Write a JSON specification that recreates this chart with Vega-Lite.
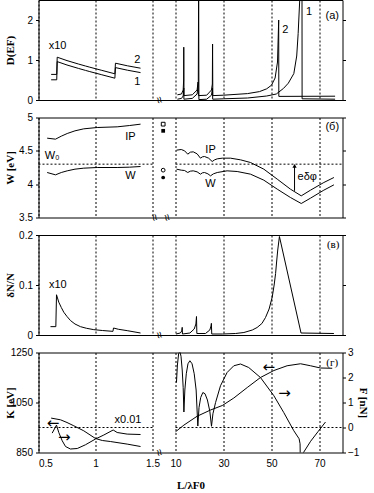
{
"$schema": "https://vega.github.io/schema/vega-lite/v6.json",
"padding": {"left": 4.5, "top": 0, "right": 0, "bottom": 0},
"autosize": {"type": "pad"},
"background": "white",
"config": {
  "view": {"stroke": null},
  "axis": {"domainColor": "black", "tickColor": "black", "labelColor": "black", "labelFont": "Liberation Sans", "labelFontSize": 10, "titleFont": "Liberation Serif", "titleFontSize": 11, "titleFontWeight": "bold", "titleColor": "black", "grid": false, "tickSize": 3, "labelPadding": 3},
  "text": {"font": "Liberation Sans", "fontSize": 11, "color": "black"},
  "line": {"color": "black", "strokeWidth": 1}
},
"columns": 2,
"bounds": "flush",
"spacing": {"row": 17.5, "column": 0},
"concat": [
{
 "width": 120, "height": 100,
 "resolve": {"scale": {"y": "independent"}, "axis": {"x": "independent"}},
 "layer": [
  {"data": {"values": [
    {"c":"2","x":0.611,"y":0.64},{"c":"2","x":0.66,"y":0.64},{"c":"2","x":0.664,"y":1.07},{"c":"2","x":0.75,"y":0.985},{"c":"2","x":0.85,"y":0.9},{"c":"2","x":0.912,"y":0.85},{"c":"2","x":0.95,"y":0.82},{"c":"2","x":1.05,"y":0.745},{"c":"2","x":1.17,"y":0.655},{"c":"2","x":1.175,"y":0.92},{"c":"2","x":1.28,"y":0.855},{"c":"2","x":1.395,"y":0.795},
    {"c":"1","x":0.611,"y":0.505},{"c":"1","x":0.66,"y":0.505},{"c":"1","x":0.664,"y":0.96},{"c":"1","x":0.75,"y":0.875},{"c":"1","x":0.85,"y":0.79},{"c":"1","x":0.912,"y":0.74},{"c":"1","x":0.95,"y":0.71},{"c":"1","x":1.05,"y":0.635},{"c":"1","x":1.17,"y":0.545},{"c":"1","x":1.175,"y":0.81},{"c":"1","x":1.28,"y":0.745},{"c":"1","x":1.395,"y":0.685}
   ]},
   "mark": {"type": "line", "color": "black", "strokeWidth": 1},
   "encoding": {
    "x": {"field": "x", "type": "quantitative", "scale": {"domain": [0.5, 1.5526], "nice": false, "zero": false}, "axis": {"orient": "bottom", "values": [0.5, 1, 1.5], "grid": true, "gridDash": [2, 2], "gridColor": "black", "gridOpacity": 1, "ticks": false, "labels": false, "title": null}},
    "y": {"field": "y", "type": "quantitative", "scale": {"domain": [0, 2.5], "nice": false, "zero": false}, "axis": {"orient": "left", "values": [0, 1, 2], "labelExpr": "'' + datum.value", "title": "D(EF)", "titleX": -28, "titleY": 50, "titleAngle": -90, "titleAlign": "center", "titleBaseline": "middle"}},
    "detail": {"field": "c"}
   }},
  {"data": {"values": [{"x":0.667,"y":1.36,"t":"x10"},{"x":1.366,"y":0.99,"t":"2"},{"x":1.366,"y":0.46,"t":"1"}]},
   "mark": {"type": "text", "fontSize": 11},
   "encoding": {
    "x": {"field": "x", "type": "quantitative", "scale": {"domain": [0.5, 1.5526], "nice": false, "zero": false}, "axis": {"orient": "top", "ticks": false, "labels": false, "title": null}},
    "y": {"field": "y", "type": "quantitative", "scale": {"domain": [0, 2.5], "nice": false, "zero": false}, "axis": null},
    "text": {"field": "t"}
   }}
 ]
},
{
 "width": 184, "height": 100,
 "resolve": {"scale": {"y": "independent"}, "axis": {"x": "independent"}},
 "layer": [
  {"data": {"values": [
    {"c":"1","x":10.8,"y":0.02},{"c":"1","x":12.5,"y":0.04},{"c":"1","x":13.2,"y":0.1},{"c":"1","x":13.45,"y":0.3},{"c":"1","x":13.5,"y":0.02},{"c":"1","x":17,"y":0.04},{"c":"1","x":19,"y":0.15},{"c":"1","x":19.5,"y":0.4},{"c":"1","x":19.65,"y":3.0},{"c":"1","x":19.75,"y":0.01},{"c":"1","x":23,"y":0.02},{"c":"1","x":25,"y":0.12},{"c":"1","x":25.4,"y":0.3},{"c":"1","x":25.5,"y":0.02},{"c":"1","x":30,"y":0.03},{"c":"1","x":40,"y":0.05},{"c":"1","x":48,"y":0.1},{"c":"1","x":52,"y":0.15},{"c":"1","x":55,"y":0.29},{"c":"1","x":57,"y":0.42},{"c":"1","x":59.3,"y":0.66},{"c":"1","x":60.5,"y":1.1},{"c":"1","x":61.1,"y":1.66},{"c":"1","x":61.6,"y":2.3},{"c":"1","x":62,"y":2.8},{"c":"1","x":62.7,"y":3.2},{"c":"1","x":62.75,"y":0.03},{"c":"1","x":76.5,"y":0.02},
    {"c":"2","x":10.8,"y":0.13},{"c":"2","x":12.5,"y":0.15},{"c":"2","x":13.2,"y":0.25},{"c":"2","x":13.4,"y":0.5},{"c":"2","x":13.45,"y":1.32},{"c":"2","x":13.55,"y":0.11},{"c":"2","x":17,"y":0.13},{"c":"2","x":19,"y":0.25},{"c":"2","x":19.4,"y":0.45},{"c":"2","x":19.55,"y":0.11},{"c":"2","x":23,"y":0.12},{"c":"2","x":25,"y":0.25},{"c":"2","x":25.35,"y":0.4},{"c":"2","x":25.45,"y":1.4},{"c":"2","x":25.55,"y":0.11},{"c":"2","x":30,"y":0.12},{"c":"2","x":40,"y":0.16},{"c":"2","x":45,"y":0.21},{"c":"2","x":48,"y":0.28},{"c":"2","x":50,"y":0.37},{"c":"2","x":51.5,"y":0.55},{"c":"2","x":52.5,"y":0.95},{"c":"2","x":53,"y":2.0},{"c":"2","x":53.05,"y":0.09},{"c":"2","x":76.5,"y":0.095}
   ]},
   "mark": {"type": "line", "color": "black", "strokeWidth": 1, "clip": true},
   "encoding": {
    "x": {"field": "x", "type": "quantitative", "scale": {"domain": [2.92, 79.58], "nice": false, "zero": false}, "axis": {"orient": "bottom", "values": [10, 30, 50, 70], "grid": true, "gridDash": [2, 2], "gridColor": "black", "gridOpacity": 1, "ticks": false, "labels": false, "title": null}},
    "y": {"field": "y", "type": "quantitative", "scale": {"domain": [0, 2.5], "nice": false, "zero": false}, "axis": {"orient": "right", "values": [0, 1, 2], "labels": false, "title": null}},
    "detail": {"field": "c"}
   }},
  {"data": {"values": [{"x":55.8,"y":1.74,"t":"2"},{"x":65.6,"y":2.2,"t":"1"},{"x":75.3,"y":2.11,"t":"(а)"}]},
   "mark": {"type": "text", "fontSize": 11},
   "encoding": {
    "x": {"field": "x", "type": "quantitative", "scale": {"domain": [2.92, 79.58], "nice": false, "zero": false}, "axis": {"orient": "top", "ticks": false, "labels": false, "title": null}},
    "y": {"field": "y", "type": "quantitative", "scale": {"domain": [0, 2.5], "nice": false, "zero": false}, "axis": null},
    "text": {"field": "t"}
   }},
  {"data": {"values": [{"x":3.3,"y":0}]},
   "mark": {"type": "text", "text": "≈", "fontSize": 12, "angle": 70},
   "encoding": {
    "x": {"field": "x", "type": "quantitative", "scale": {"domain": [2.92, 79.58], "nice": false, "zero": false}, "axis": null},
    "y": {"field": "y", "type": "quantitative", "scale": {"domain": [0, 2.5], "nice": false, "zero": false}, "axis": null}
   }}
 ]
},
{
 "width": 120, "height": 100,
 "resolve": {"scale": {"y": "independent"}, "axis": {"x": "independent"}},
 "layer": [
  {"data": {"values": [
    {"c":"IP","x":0.576,"y":4.69},{"c":"IP","x":0.649,"y":4.675},{"c":"IP","x":0.7,"y":4.72},{"c":"IP","x":0.752,"y":4.76},{"c":"IP","x":0.82,"y":4.8},{"c":"IP","x":0.897,"y":4.83},{"c":"IP","x":1.015,"y":4.85},{"c":"IP","x":1.19,"y":4.86},{"c":"IP","x":1.3,"y":4.88},{"c":"IP","x":1.395,"y":4.9},
    {"c":"W","x":0.576,"y":4.175},{"c":"W","x":0.649,"y":4.14},{"c":"W","x":0.7,"y":4.175},{"c":"W","x":0.752,"y":4.2},{"c":"W","x":0.82,"y":4.225},{"c":"W","x":0.897,"y":4.24},{"c":"W","x":1.015,"y":4.25},{"c":"W","x":1.19,"y":4.25},{"c":"W","x":1.3,"y":4.255},{"c":"W","x":1.395,"y":4.265}
   ]},
   "mark": {"type": "line", "color": "black", "strokeWidth": 1},
   "encoding": {
    "x": {"field": "x", "type": "quantitative", "scale": {"domain": [0.5, 1.5526], "nice": false, "zero": false}, "axis": {"orient": "bottom", "values": [0.5, 1, 1.5], "grid": true, "gridDash": [2, 2], "gridColor": "black", "gridOpacity": 1, "ticks": false, "labels": false, "title": null}},
    "y": {"field": "y", "type": "quantitative", "scale": {"domain": [3.5, 5], "nice": false, "zero": false}, "axis": {"orient": "left", "values": [3.5, 4, 4.5, 5], "labelExpr": "'' + datum.value", "title": "W [eV]", "titleX": -28, "titleY": 50, "titleAngle": -90, "titleAlign": "center", "titleBaseline": "middle"}},
    "detail": {"field": "c"}
   }},
  {"data": {"values": [{"x":0.5,"x2":1.5,"y":4.3}]},
   "mark": {"type": "rule", "color": "black", "strokeWidth": 1, "strokeDash": [2, 2]},
   "encoding": {
    "x": {"field": "x", "type": "quantitative", "scale": {"domain": [0.5, 1.5526], "nice": false, "zero": false}, "axis": null},
    "x2": {"field": "x2"},
    "y": {"field": "y", "type": "quantitative", "scale": {"domain": [3.5, 5], "nice": false, "zero": false}, "axis": null}
   }},
  {"data": {"values": [{"x":0.62,"y":4.42,"t":"W₀"},{"x":1.307,"y":4.71,"t":"IP"},{"x":1.307,"y":4.125,"t":"W"}]},
   "mark": {"type": "text", "fontSize": 11},
   "encoding": {
    "x": {"field": "x", "type": "quantitative", "scale": {"domain": [0.5, 1.5526], "nice": false, "zero": false}, "axis": {"orient": "top", "ticks": false, "labels": false, "title": null}},
    "y": {"field": "y", "type": "quantitative", "scale": {"domain": [3.5, 5], "nice": false, "zero": false}, "axis": null},
    "text": {"field": "t"}
   }}
 ]
},
{
 "width": 184, "height": 100,
 "resolve": {"scale": {"y": "independent"}, "axis": {"x": "independent"}},
 "layer": [
  {"data": {"values": [
    {"c":"IP","x":10.42,"y":4.51},{"c":"IP","x":12.4,"y":4.52},{"c":"IP","x":13.8,"y":4.5},{"c":"IP","x":15.1,"y":4.45},{"c":"IP","x":16.2,"y":4.48},{"c":"IP","x":17.4,"y":4.485},{"c":"IP","x":19.0,"y":4.455},{"c":"IP","x":20.4,"y":4.39},{"c":"IP","x":21.2,"y":4.41},{"c":"IP","x":22.1,"y":4.415},{"c":"IP","x":23.8,"y":4.39},{"c":"IP","x":25.3,"y":4.34},{"c":"IP","x":26.3,"y":4.365},{"c":"IP","x":27.4,"y":4.38},{"c":"IP","x":29.5,"y":4.39},{"c":"IP","x":32.9,"y":4.39},{"c":"IP","x":37.1,"y":4.365},{"c":"IP","x":41.25,"y":4.325},{"c":"IP","x":46.8,"y":4.225},{"c":"IP","x":52.4,"y":4.075},{"c":"IP","x":57.9,"y":3.925},{"c":"IP","x":62.4,"y":3.825},{"c":"IP","x":66.25,"y":3.91},{"c":"IP","x":71.8,"y":4.025},{"c":"IP","x":76,"y":4.1},
    {"c":"W","x":10.42,"y":4.225},{"c":"W","x":12.4,"y":4.21},{"c":"W","x":13.8,"y":4.205},{"c":"W","x":15.1,"y":4.175},{"c":"W","x":16.2,"y":4.195},{"c":"W","x":17.4,"y":4.2},{"c":"W","x":19.0,"y":4.185},{"c":"W","x":20.4,"y":4.15},{"c":"W","x":21.2,"y":4.17},{"c":"W","x":22.1,"y":4.175},{"c":"W","x":23.5,"y":4.155},{"c":"W","x":24.6,"y":4.125},{"c":"W","x":25.8,"y":4.155},{"c":"W","x":27.4,"y":4.175},{"c":"W","x":31.5,"y":4.2},{"c":"W","x":35.7,"y":4.19},{"c":"W","x":41.25,"y":4.15},{"c":"W","x":46.8,"y":4.06},{"c":"W","x":52.4,"y":3.925},{"c":"W","x":57.9,"y":3.8},{"c":"W","x":62.4,"y":3.71},{"c":"W","x":66.25,"y":3.79},{"c":"W","x":71.8,"y":3.91},{"c":"W","x":76,"y":3.99}
   ]},
   "mark": {"type": "line", "color": "black", "strokeWidth": 1},
   "encoding": {
    "x": {"field": "x", "type": "quantitative", "scale": {"domain": [2.92, 79.58], "nice": false, "zero": false}, "axis": {"orient": "bottom", "values": [10, 30, 50, 70], "grid": true, "gridDash": [2, 2], "gridColor": "black", "gridOpacity": 1, "ticks": false, "labels": false, "title": null}},
    "y": {"field": "y", "type": "quantitative", "scale": {"domain": [3.5, 5], "nice": false, "zero": false}, "axis": {"orient": "right", "values": [3.5, 4, 4.5, 5], "labels": false, "title": null}},
    "detail": {"field": "c"}
   }},
  {"data": {"values": [{"x":10,"x2":79.58,"y":4.3}]},
   "mark": {"type": "rule", "color": "black", "strokeWidth": 1, "strokeDash": [2, 2]},
   "encoding": {
    "x": {"field": "x", "type": "quantitative", "scale": {"domain": [2.92, 79.58], "nice": false, "zero": false}, "axis": null},
    "x2": {"field": "x2"},
    "y": {"field": "y", "type": "quantitative", "scale": {"domain": [3.5, 5], "nice": false, "zero": false}, "axis": null}
   }},
  {"data": {"values": [{"x":59.6,"y":3.9,"y2":4.28}]},
   "mark": {"type": "rule", "color": "black", "strokeWidth": 1},
   "encoding": {
    "x": {"field": "x", "type": "quantitative", "scale": {"domain": [2.92, 79.58], "nice": false, "zero": false}, "axis": null},
    "y": {"field": "y", "type": "quantitative", "scale": {"domain": [3.5, 5], "nice": false, "zero": false}, "axis": null},
    "y2": {"field": "y2"}
   }},
  {"data": {"values": [{"x":59.6,"y":4.275}]},
   "mark": {"type": "point", "shape": "triangle-up", "filled": true, "color": "black", "size": 18, "opacity": 1},
   "encoding": {
    "x": {"field": "x", "type": "quantitative", "scale": {"domain": [2.92, 79.58], "nice": false, "zero": false}, "axis": null},
    "y": {"field": "y", "type": "quantitative", "scale": {"domain": [3.5, 5], "nice": false, "zero": false}, "axis": null}
   }},
  {"data": {"values": [{"x":4.87,"y":4.9,"q":"IP"},{"x":4.87,"y":4.21,"q":"W"}]},
   "mark": {"type": "point", "filled": false, "color": "black", "size": 14, "strokeWidth": 1, "opacity": 1},
   "encoding": {
    "x": {"field": "x", "type": "quantitative", "scale": {"domain": [2.92, 79.58], "nice": false, "zero": false}, "axis": null},
    "y": {"field": "y", "type": "quantitative", "scale": {"domain": [3.5, 5], "nice": false, "zero": false}, "axis": null},
    "shape": {"field": "q", "type": "nominal", "scale": {"domain": ["IP", "W"], "range": ["square", "circle"]}, "legend": null}
   }},
  {"data": {"values": [{"x":4.87,"y":4.8,"q":"IP"},{"x":4.87,"y":4.1,"q":"W"}]},
   "mark": {"type": "point", "filled": true, "color": "black", "size": 14, "opacity": 1},
   "encoding": {
    "x": {"field": "x", "type": "quantitative", "scale": {"domain": [2.92, 79.58], "nice": false, "zero": false}, "axis": null},
    "y": {"field": "y", "type": "quantitative", "scale": {"domain": [3.5, 5], "nice": false, "zero": false}, "axis": null},
    "shape": {"field": "q", "type": "nominal", "scale": {"domain": ["IP", "W"], "range": ["square", "circle"]}, "legend": null}
   }},
  {"data": {"values": [{"x":24.6,"y":4.51,"t":"IP"},{"x":24.6,"y":4.0,"t":"W"},{"x":64.9,"y":4.11,"t":"eδφ"},{"x":75.3,"y":4.86,"t":"(б)"}]},
   "mark": {"type": "text", "fontSize": 11},
   "encoding": {
    "x": {"field": "x", "type": "quantitative", "scale": {"domain": [2.92, 79.58], "nice": false, "zero": false}, "axis": {"orient": "top", "ticks": false, "labels": false, "title": null}},
    "y": {"field": "y", "type": "quantitative", "scale": {"domain": [3.5, 5], "nice": false, "zero": false}, "axis": null},
    "text": {"field": "t"}
   }},
  {"data": {"values": [{"x":1.3,"y":3.5},{"x":6.5,"y":3.5}]},
   "mark": {"type": "text", "text": "≈", "fontSize": 12, "angle": 70},
   "encoding": {
    "x": {"field": "x", "type": "quantitative", "scale": {"domain": [2.92, 79.58], "nice": false, "zero": false}, "axis": null},
    "y": {"field": "y", "type": "quantitative", "scale": {"domain": [3.5, 5], "nice": false, "zero": false}, "axis": null}
   }}
 ]
},
{
 "width": 120, "height": 100,
 "resolve": {"scale": {"y": "independent"}, "axis": {"x": "independent"}},
 "layer": [
  {"data": {"values": [
    {"x":0.605,"y":0.0167},{"x":0.652,"y":0.0167},{"x":0.658,"y":0.0805},{"x":0.678,"y":0.0656},{"x":0.7,"y":0.055},{"x":0.722,"y":0.0455},{"x":0.75,"y":0.037},{"x":0.781,"y":0.0288},{"x":0.82,"y":0.022},{"x":0.868,"y":0.0167},{"x":0.92,"y":0.0135},{"x":0.985,"y":0.0107},{"x":1.06,"y":0.009},{"x":1.153,"y":0.0073},{"x":1.158,"y":0.014},{"x":1.2,"y":0.0115},{"x":1.278,"y":0.0087},{"x":1.395,"y":0.004}
   ]},
   "mark": {"type": "line", "color": "black", "strokeWidth": 1},
   "encoding": {
    "x": {"field": "x", "type": "quantitative", "scale": {"domain": [0.5, 1.5526], "nice": false, "zero": false}, "axis": {"orient": "bottom", "values": [0.5, 1, 1.5], "grid": true, "gridDash": [2, 2], "gridColor": "black", "gridOpacity": 1, "ticks": false, "labels": false, "title": null}},
    "y": {"field": "y", "type": "quantitative", "scale": {"domain": [0, 0.2], "nice": false, "zero": false}, "axis": {"orient": "left", "values": [0, 0.1, 0.2], "labelExpr": "'' + datum.value", "title": "δN/N", "titleX": -28, "titleY": 50, "titleAngle": -90, "titleAlign": "center", "titleBaseline": "middle"}}
   }},
  {"data": {"values": [{"x":0.67,"y":0.1,"t":"x10"}]},
   "mark": {"type": "text", "fontSize": 11},
   "encoding": {
    "x": {"field": "x", "type": "quantitative", "scale": {"domain": [0.5, 1.5526], "nice": false, "zero": false}, "axis": {"orient": "top", "ticks": false, "labels": false, "title": null}},
    "y": {"field": "y", "type": "quantitative", "scale": {"domain": [0, 0.2], "nice": false, "zero": false}, "axis": null},
    "text": {"field": "t"}
   }}
 ]
},
{
 "width": 184, "height": 100,
 "resolve": {"scale": {"y": "independent"}, "axis": {"x": "independent"}},
 "layer": [
  {"data": {"values": [
    {"x":10.2,"y":0.002},{"x":12,"y":0.004},{"x":12.6,"y":0.008},{"x":12.8,"y":0.0153},{"x":12.9,"y":0.002},{"x":16,"y":0.004},{"x":17.8,"y":0.012},{"x":18.5,"y":0.022},{"x":18.75,"y":0.037},{"x":18.9,"y":0.003},{"x":22.5,"y":0.003},{"x":24.3,"y":0.01},{"x":24.8,"y":0.018},{"x":24.95,"y":0.0233},{"x":25.1,"y":0.002},{"x":29.5,"y":0.002},{"x":35,"y":0.003},{"x":38.5,"y":0.005},{"x":42,"y":0.01},{"x":44,"y":0.015},{"x":46,"y":0.023},{"x":47.5,"y":0.035},{"x":49,"y":0.052},{"x":50.3,"y":0.076},{"x":51.1,"y":0.1},{"x":51.7,"y":0.123},{"x":52.2,"y":0.15},{"x":52.6,"y":0.17},{"x":53.3,"y":0.197},{"x":62.3,"y":0.004},{"x":76,"y":0.003}
   ]},
   "mark": {"type": "line", "color": "black", "strokeWidth": 1},
   "encoding": {
    "x": {"field": "x", "type": "quantitative", "scale": {"domain": [2.92, 79.58], "nice": false, "zero": false}, "axis": {"orient": "bottom", "values": [10, 30, 50, 70], "grid": true, "gridDash": [2, 2], "gridColor": "black", "gridOpacity": 1, "ticks": false, "labels": false, "title": null}},
    "y": {"field": "y", "type": "quantitative", "scale": {"domain": [0, 0.2], "nice": false, "zero": false}, "axis": {"orient": "right", "values": [0, 0.1, 0.2], "labels": false, "title": null}}
   }},
  {"data": {"values": [{"x":75.7,"y":0.18,"t":"(в)"}]},
   "mark": {"type": "text", "fontSize": 11, "font": "Liberation Serif"},
   "encoding": {
    "x": {"field": "x", "type": "quantitative", "scale": {"domain": [2.92, 79.58], "nice": false, "zero": false}, "axis": {"orient": "top", "ticks": false, "labels": false, "title": null}},
    "y": {"field": "y", "type": "quantitative", "scale": {"domain": [0, 0.2], "nice": false, "zero": false}, "axis": null},
    "text": {"field": "t"}
   }},
  {"data": {"values": [{"x":3.3,"y":0}]},
   "mark": {"type": "text", "text": "≈", "fontSize": 12, "angle": 70},
   "encoding": {
    "x": {"field": "x", "type": "quantitative", "scale": {"domain": [2.92, 79.58], "nice": false, "zero": false}, "axis": null},
    "y": {"field": "y", "type": "quantitative", "scale": {"domain": [0, 0.2], "nice": false, "zero": false}, "axis": null}
   }}
 ]
},
{
 "width": 120, "height": 100,
 "resolve": {"scale": {"y": "independent"}, "axis": {"x": "independent"}},
 "layer": [
  {"data": {"values": [
    {"x":0.611,"y":987.6},{"x":0.693,"y":980.8},{"x":0.75,"y":970},{"x":0.81,"y":956.8},{"x":0.897,"y":936.8},{"x":1.0,"y":906},{"x":1.06,"y":898},{"x":1.13,"y":894},{"x":1.278,"y":883.6},{"x":1.395,"y":874}
   ]},
   "mark": {"type": "line", "color": "black", "strokeWidth": 1},
   "encoding": {
    "x": {"field": "x", "type": "quantitative", "scale": {"domain": [0.5, 1.5526], "nice": false, "zero": false}, "axis": {"orient": "bottom", "values": [0.5, 1, 1.5], "grid": true, "gridDash": [2, 2], "gridColor": "black", "gridOpacity": 1, "ticks": false, "labels": true, "labelPadding": 6, "labelExpr": "'' + datum.value", "title": "L/λF0", "titleX": 152, "titleY": 33, "titleAlign": "center", "titleBaseline": "middle"}},
    "y": {"field": "y", "type": "quantitative", "scale": {"domain": [850, 1250], "nice": false, "zero": false}, "axis": {"orient": "left", "values": [850, 1050, 1250], "labelExpr": "'' + datum.value", "title": "K [eV]", "titleX": -28, "titleY": 50, "titleAngle": -90, "titleAlign": "center", "titleBaseline": "middle"}}
   }},
  {"data": {"values": [
    {"x":0.62,"y":-0.224},{"x":0.658,"y":0.096},{"x":0.678,"y":-0.2},{"x":0.708,"y":-0.53},{"x":0.737,"y":-0.76},{"x":0.78,"y":-0.86},{"x":0.84,"y":-0.84},{"x":0.912,"y":-0.69},{"x":1.0,"y":-0.46},{"x":1.073,"y":-0.3},{"x":1.155,"y":-0.1},{"x":1.19,"y":-0.2},{"x":1.278,"y":-0.264},{"x":1.395,"y":-0.28}
   ]},
   "mark": {"type": "line", "color": "black", "strokeWidth": 1},
   "encoding": {
    "x": {"field": "x", "type": "quantitative", "scale": {"domain": [0.5, 1.5526], "nice": false, "zero": false}, "axis": null},
    "y": {"field": "y", "type": "quantitative", "scale": {"domain": [-1, 3], "nice": false, "zero": false}, "axis": null}
   }},
  {"data": {"values": [{"x":0.5,"x2":1.5,"y":0}]},
   "mark": {"type": "rule", "color": "black", "strokeWidth": 1, "strokeDash": [2, 2]},
   "encoding": {
    "x": {"field": "x", "type": "quantitative", "scale": {"domain": [0.5, 1.5526], "nice": false, "zero": false}, "axis": null},
    "x2": {"field": "x2"},
    "y": {"field": "y", "type": "quantitative", "scale": {"domain": [-1, 3], "nice": false, "zero": false}, "axis": null}
   }},
  {"data": {"values": [{"x":1.285,"y":981,"t":"x0.01"}]},
   "mark": {"type": "text", "fontSize": 11},
   "encoding": {
    "x": {"field": "x", "type": "quantitative", "scale": {"domain": [0.5, 1.5526], "nice": false, "zero": false}, "axis": {"orient": "top", "ticks": false, "labels": false, "title": null}},
    "y": {"field": "y", "type": "quantitative", "scale": {"domain": [850, 1250], "nice": false, "zero": false}, "axis": null},
    "text": {"field": "t"}
   }},
  {"data": {"values": [{"x":0.627,"y":970,"t":"←"},{"x":0.726,"y":914,"t":"→"}]},
   "mark": {"type": "text", "fontSize": 15, "font": "DejaVu Sans"},
   "encoding": {
    "x": {"field": "x", "type": "quantitative", "scale": {"domain": [0.5, 1.5526], "nice": false, "zero": false}, "axis": null},
    "y": {"field": "y", "type": "quantitative", "scale": {"domain": [850, 1250], "nice": false, "zero": false}, "axis": null},
    "text": {"field": "t"}
   }}
 ]
},
{
 "width": 184, "height": 100,
 "resolve": {"scale": {"y": "independent"}, "axis": {"x": "independent"}},
 "layer": [
  {"data": {"values": [
    {"x":10,"y":932.8},{"x":13.5,"y":959.6},{"x":19,"y":995},{"x":24.6,"y":1020},{"x":29.5,"y":1038},{"x":34.3,"y":1068},{"x":39.9,"y":1110},{"x":45.4,"y":1150},{"x":51,"y":1178},{"x":56.5,"y":1197},{"x":62.1,"y":1205},{"x":66.25,"y":1197},{"x":70.4,"y":1188},{"x":75.3,"y":1187}
   ]},
   "mark": {"type": "line", "color": "black", "strokeWidth": 1},
   "encoding": {
    "x": {"field": "x", "type": "quantitative", "scale": {"domain": [2.92, 79.58], "nice": false, "zero": false}, "axis": {"orient": "bottom", "values": [10, 30, 50, 70], "grid": true, "gridDash": [2, 2], "gridColor": "black", "gridOpacity": 1, "ticks": false, "labels": true, "labelPadding": 6, "title": null}},
    "y": {"field": "y", "type": "quantitative", "scale": {"domain": [850, 1250], "nice": false, "zero": false}, "axis": null}
   }},
  {"data": {"values": [
    {"s":"a","x":10.4,"y":1.8},{"s":"a","x":10.8,"y":2.5},{"s":"a","x":11.3,"y":2.95},{"s":"a","x":11.8,"y":3.05},{"s":"a","x":12.3,"y":2.85},{"s":"a","x":12.8,"y":2.3},{"s":"a","x":13.2,"y":1.6},{"s":"a","x":13.5,"y":0.62},
    {"s":"a","x":13.9,"y":1.5},{"s":"a","x":14.5,"y":2.15},{"s":"a","x":15.2,"y":2.55},{"s":"a","x":16.0,"y":2.67},{"s":"a","x":16.9,"y":2.55},{"s":"a","x":17.8,"y":2.15},{"s":"a","x":18.6,"y":1.5},{"s":"a","x":19.3,"y":0.06},
    {"s":"a","x":19.8,"y":0.8},{"s":"a","x":20.5,"y":1.2},{"s":"a","x":21.4,"y":1.4},{"s":"a","x":22.3,"y":1.35},{"s":"a","x":23.3,"y":1.1},{"s":"a","x":24.3,"y":0.65},{"s":"a","x":25.0,"y":0.05},
    {"s":"a","x":25.6,"y":0.55},{"s":"a","x":26.7,"y":1.0},{"s":"a","x":28.75,"y":1.67},{"s":"a","x":31.5,"y":2.2},{"s":"a","x":34.3,"y":2.47},{"s":"a","x":37.1,"y":2.54},{"s":"a","x":40.5,"y":2.4},{"s":"a","x":45.4,"y":2.0},{"s":"a","x":51,"y":1.27},{"s":"a","x":55.1,"y":0.6},{"s":"a","x":59.3,"y":-0.13},{"s":"a","x":61.5,"y":-0.45},{"s":"a","x":61.9,"y":-0.65},{"s":"a","x":62.0,"y":-1.3},
    {"s":"b","x":63.2,"y":-1.02},{"s":"b","x":66.3,"y":-0.55},{"s":"b","x":69.5,"y":-0.15},{"s":"b","x":72.5,"y":0.22}
   ]},
   "mark": {"type": "line", "color": "black", "strokeWidth": 1, "clip": true},
   "encoding": {
    "x": {"field": "x", "type": "quantitative", "scale": {"domain": [2.92, 79.58], "nice": false, "zero": false}, "axis": null},
    "y": {"field": "y", "type": "quantitative", "scale": {"domain": [-1, 3], "nice": false, "zero": false}, "axis": {"orient": "right", "values": [-1, 0, 1, 2, 3], "labelPadding": 2, "title": "F [nN]", "titleX": 20, "titleY": 50, "titleAngle": 90, "titleAlign": "center", "titleBaseline": "middle"}},
    "detail": {"field": "s"}
   }},
  {"data": {"values": [{"x":10,"x2":79.58,"y":0}]},
   "mark": {"type": "rule", "color": "black", "strokeWidth": 1, "strokeDash": [2, 2]},
   "encoding": {
    "x": {"field": "x", "type": "quantitative", "scale": {"domain": [2.92, 79.58], "nice": false, "zero": false}, "axis": null},
    "x2": {"field": "x2"},
    "y": {"field": "y", "type": "quantitative", "scale": {"domain": [-1, 3], "nice": false, "zero": false}, "axis": null}
   }},
  {"data": {"values": [{"x":75.3,"y":1210,"t":"(г)"}]},
   "mark": {"type": "text", "fontSize": 11, "font": "Liberation Serif"},
   "encoding": {
    "x": {"field": "x", "type": "quantitative", "scale": {"domain": [2.92, 79.58], "nice": false, "zero": false}, "axis": {"orient": "top", "ticks": false, "labels": false, "title": null}},
    "y": {"field": "y", "type": "quantitative", "scale": {"domain": [850, 1250], "nice": false, "zero": false}, "axis": null},
    "text": {"field": "t"}
   }},
  {"data": {"values": [{"x":48.9,"y":1193,"t":"←"},{"x":55.4,"y":1088,"t":"→"}]},
   "mark": {"type": "text", "fontSize": 15, "font": "DejaVu Sans"},
   "encoding": {
    "x": {"field": "x", "type": "quantitative", "scale": {"domain": [2.92, 79.58], "nice": false, "zero": false}, "axis": null},
    "y": {"field": "y", "type": "quantitative", "scale": {"domain": [850, 1250], "nice": false, "zero": false}, "axis": null},
    "text": {"field": "t"}
   }},
  {"data": {"values": [{"x":3.3,"y":850}]},
   "mark": {"type": "text", "text": "≈", "fontSize": 12, "angle": 70},
   "encoding": {
    "x": {"field": "x", "type": "quantitative", "scale": {"domain": [2.92, 79.58], "nice": false, "zero": false}, "axis": null},
    "y": {"field": "y", "type": "quantitative", "scale": {"domain": [850, 1250], "nice": false, "zero": false}, "axis": null}
   }}
 ]
}
]
}
